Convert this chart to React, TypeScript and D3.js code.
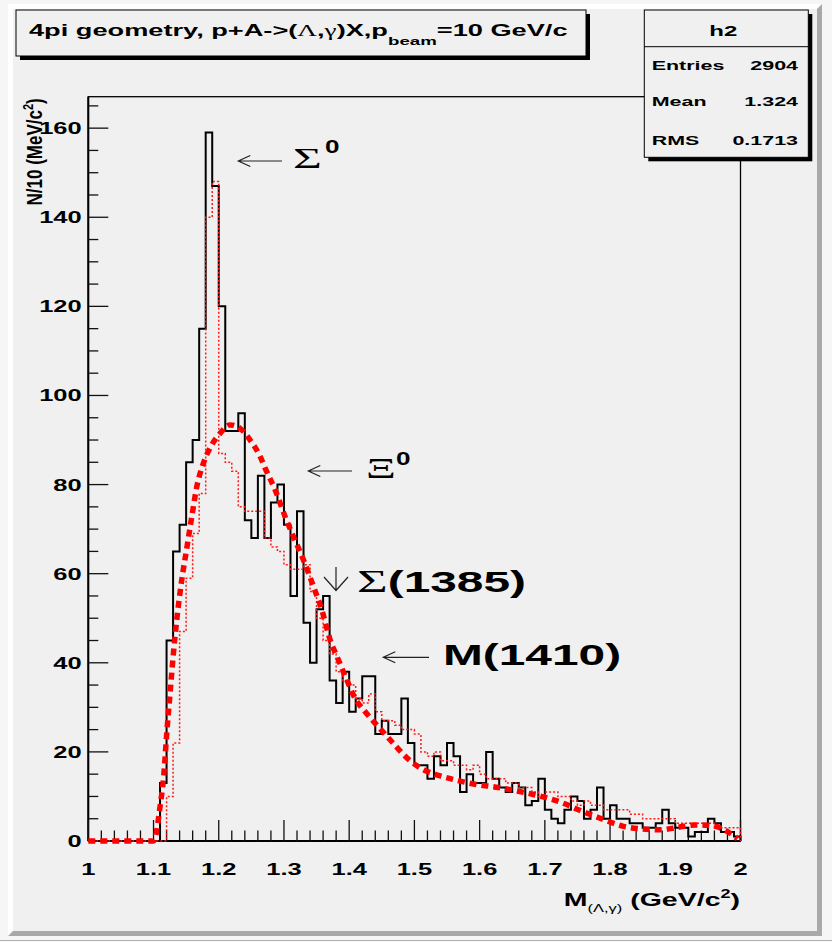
import React from 'react'
import * as d3 from 'd3'

const W = 832
const H = 942

// 10 MeV bins from 1.00 to 2.00 (100 bins)
const dataCounts = [
  0, 0, 0, 0, 0, 0, 0, 0, 0, 0,
  0, 13, 45, 65, 71, 85, 90, 115, 159, 147,
  120, 92, 92, 96, 72, 68, 82, 68, 76, 80,
  71, 55, 74, 49, 40, 52, 55, 36, 31, 38,
  29, 32, 37, 37, 24, 27, 24, 24, 32, 22,
  17, 17, 14, 19, 17, 22, 19, 11, 15, 13,
  13, 20, 14, 12, 11, 13, 12, 8, 9, 14,
  7, 5, 4, 7, 10, 9, 5, 7, 12, 5,
  8, 5, 5, 4, 4, 3, 3, 4, 7, 4,
  3, 3, 1, 2, 2, 5, 4, 2, 2, 1,
]

// dotted red reference histogram
const refCounts = [
  0, 0, 0, 0, 0, 0, 0, 0, 0, 0,
  0, 0, 10, 22, 47, 59, 69, 78, 140, 148,
  87, 85, 83, 75, 74, 74, 74, 68, 66, 65,
  62, 61, 61, 62, 56, 50, 45, 42, 38, 36,
  35, 32, 31, 33, 29, 27, 27, 26, 25, 25,
  24, 20, 19, 20, 18, 18, 17, 17, 16, 17,
  15, 14, 14, 14, 13, 13, 12, 12, 11, 10,
  11, 11, 10, 10, 9, 8, 9, 8, 8, 7,
  7, 7, 7, 6, 6, 5, 5, 5, 5, 5,
  4, 4, 4, 4, 4, 4, 3, 3, 3, 3,
]

// fitted curve
const fitX = [1.0, 1.1, 1.1023, 1.11, 1.1155, 1.1203, 1.1254, 1.1305, 1.1356, 1.1433,
  1.151, 1.1587, 1.1663, 1.1765, 1.1893, 1.2021, 1.2174, 1.2328, 1.2481, 1.2635,
  1.2711, 1.2865, 1.3018, 1.3146, 1.3299, 1.3453, 1.358, 1.3709, 1.3836, 1.3965,
  1.4092, 1.4246, 1.4425, 1.4579, 1.4732, 1.4936, 1.514, 1.5397, 1.5653, 1.5908,
  1.6289, 1.6548, 1.6808, 1.7054, 1.7315, 1.7514, 1.7744, 1.7975, 1.8205, 1.8497,
  1.8773, 1.9047, 1.9308, 1.9584, 1.98, 1.9953]
const fitY = [0, 0, 0.6, 7.7, 14.4, 24.2, 33.2, 42.1, 49.6, 58.6,
  65.7, 72.8, 79.5, 84.8, 88.9, 91.5, 93.4, 92.6, 90, 86.3,
  83.7, 78.8, 72.8, 68.3, 63.1, 57.1, 51.9, 45.1, 40.6, 36.1,
  32, 29, 26, 23.5, 21, 18, 16, 14.6, 13.6, 12.8,
  12, 11.3, 10.5, 9.6, 8.3, 7, 5.7, 4.4, 3.3, 2.7,
  2.5, 3.1, 3.6, 3.4, 2.1, 0.5]

const xTickLabels = ['1', '1.1', '1.2', '1.3', '1.4', '1.5', '1.6', '1.7', '1.8', '1.9', '2']
const yTickLabels = ['0', '20', '40', '60', '80', '100', '120', '140', '160']
const statNames = ['Entries', 'Mean', 'RMS']
const statValues = ['2904', '1.324', '0.1713']

const SANS = '"Liberation Sans", Arial, Helvetica, sans-serif'
const SERIF = '"Liberation Serif", "Times New Roman", serif'

function ST({ x, y, sx = 1.65, anchor = 'start', size, weight = 'bold', family = SANS, rotate, children }: any) {
  const tr = `translate(${x},${y}) scale(${sx},1)` + (rotate ? ` rotate(${rotate})` : '')
  return (
    <text transform={tr} textAnchor={anchor} fontSize={size} fontWeight={weight} fontFamily={family} fill="#000">
      {children}
    </text>
  )
}

function Chart() {
  const x = d3.scaleLinear().domain([1, 2]).range([88.3, 740.5])
  const y = d3.scaleLinear().domain([0, 167.06]).range([841, 96.7])

  const binW = 0.01
  const histPath = (vals: number[]) => {
    const pts: [number, number][] = vals.map((v, i) => [1 + i * binW, v])
    pts.push([2, vals[vals.length - 1]])
    pts.push([2, 0])
    return d3.line<[number, number]>()
      .x(d => x(d[0]))
      .y(d => y(d[1]))
      .curve(d3.curveStepAfter)(pts) as string
  }

  const fitPath = d3.line<number>()
    .x((d, i) => x(fitX[i]))
    .y(d => y(d))
    .curve(d3.curveMonotoneX)(fitY) as string

  const xMinor = d3.range(0, 51).map(i => 1 + i * 0.02)
  const yMinor = d3.range(0, 34).map(i => i * 5)

  const x0 = x(1), x1 = x(2), yb = y(0), yt = y.range()[1]

  const arrowL = (xa: number, xb: number, yy: number) =>
    `M${xb},${yy}L${xa},${yy}M${xa + 12},${yy - 5.5}L${xa},${yy}L${xa + 12},${yy + 5.5}`

  return (
    <svg width={W} height={H} style={{ position: 'absolute', left: 0, top: 0 }}>
      {/* canvas with bevel */}
      <rect x={0} y={0} width={W} height={H} fill="#f6f6f6" />
      <rect x={8} y={4} width={814} height={932} fill="#f0f0f0" />
      <polygon points="8,4 822,4 817,9 13,9 13,931 8,936" fill="#ffffff" />
      <polygon points="822,4 822,936 8,936 13,931 817,931 817,9" fill="#a9a9a9" />
      <line x1={0} x2={W} y1={940.5} y2={940.5} stroke="#b0b0b0" />

      {/* frame */}
      <rect x={x0} y={yt} width={x1 - x0} height={yb - yt} fill="none" stroke="#000" strokeWidth={1.3} />
      <line x1={x0} x2={x0} y1={yt} y2={yb} stroke="#000" strokeWidth={2} />
      <line x1={x0} x2={x1} y1={yb} y2={yb} stroke="#000" strokeWidth={2} />

      {/* ticks */}
      {xMinor.map((v, i) => (
        <line key={'xt' + i} x1={x(v)} x2={x(v)} y1={yb} y2={yb - (i % 5 === 0 ? 21 : 10.5)} stroke="#111" strokeWidth={1.3} />
      ))}
      {yMinor.map((v, i) => (
        <line key={'yt' + i} x1={x0} x2={x0 + (i % 4 === 0 ? 20 : 10)} y1={y(v)} y2={y(v)} stroke="#111" strokeWidth={1.3} />
      ))}

      {/* tick labels */}
      {xTickLabels.map((t, i) => (
        <ST key={'xl' + i} x={x(1 + i * 0.1)} y={875} sx={1.5} anchor="middle" size={17}>{t}</ST>
      ))}
      {yTickLabels.map((t, i) => (
        <ST key={'yl' + i} x={81.7} y={y(i * 20) + 6} sx={1.5} anchor="end" size={17}>{t}</ST>
      ))}

      {/* axis titles */}
      <ST x={41.7} y={98.3} sx={1.3} anchor="end" size={17} rotate={-90}>
        N/10 (MeV/c<tspan fontSize={11} dy={-7}>2</tspan><tspan dy={7}>)</tspan>
      </ST>
      <ST x={740} y={906} sx={1.5} anchor="end" size={19}>
        M<tspan fontSize={11} dy={6} fontWeight="normal">(Λ,γ)</tspan>
        <tspan dy={-6}> (GeV/c</tspan><tspan fontSize={12} dy={-8}>2</tspan><tspan dy={8}>)</tspan>
      </ST>

      {/* histograms and fit */}
      <path d={histPath(dataCounts)} fill="none" stroke="#000" strokeWidth={2} />
      <path d={histPath(refCounts)} fill="none" stroke="#ff1a1a" strokeWidth={1.5} strokeDasharray="2 2" />
      <path d={fitPath} fill="none" stroke="#ff0000" strokeWidth={5.5} strokeDasharray="7 5" />

      {/* annotations */}
      <path d={arrowL(238.3, 282, 161)} fill="none" stroke="#222" strokeWidth={1.2} />
      <ST x={293} y={168} sx={1.65} size={30} weight="normal" family={SERIF}>Σ</ST>
      <ST x={325} y={153} sx={1.45} size={18}>0</ST>

      <path d={arrowL(308.3, 352, 471)} fill="none" stroke="#222" strokeWidth={1.2} />
      <ST x={366} y={478} sx={1.6} size={29} weight="normal" family={SERIF}>Ξ</ST>
      <ST x={396} y={465} sx={1.45} size={18}>0</ST>

      <path d="M336,567L336,590.5M324,577L336,590.5L348,577" fill="none" stroke="#222" strokeWidth={1.2} />
      <ST x={357} y={592} sx={1.65} size={29}>
        <tspan fontFamily={SERIF} fontWeight="normal" fontSize={32}>Σ</tspan>(1385)
      </ST>

      <path d={arrowL(383.3, 429, 657.3)} fill="none" stroke="#222" strokeWidth={1.2} />
      <ST x={443} y={665} sx={1.65} size={29}>M(1410)</ST>

      {/* title box */}
      <rect x={20} y={14} width={570} height={46} fill="#000" />
      <rect x={16} y={10} width={570} height={46} fill="#f0f0f0" stroke="#000" strokeWidth={1} />
      <ST x={29} y={36} sx={1.7} size={16}>
        4pi geometry, p+A-&gt;(<tspan fontFamily={SERIF} fontWeight="normal">Λ</tspan>,<tspan fontFamily={SERIF} fontWeight="normal">γ</tspan>)X,p
        <tspan fontSize={11} dy={9}>beam</tspan><tspan dy={-9}>=10 GeV/c</tspan>
      </ST>

      {/* stats box */}
      <rect x={648.3} y={14} width={164} height={147.3} fill="#000" />
      <rect x={644.3} y={10} width={164} height={147.3} fill="#f0f0f0" stroke="#000" strokeWidth={1} />
      <line x1={644.3} x2={808.3} y1={46.7} y2={46.7} stroke="#000" strokeWidth={1} />
      <ST x={723.3} y={35.5} sx={1.6} anchor="middle" size={15}>h2</ST>
      {statNames.map((s, i) => (
        <ST key={'sn' + i} x={651.7} y={[69.5, 106, 144.5][i]} sx={1.65} size={13}>{s}</ST>
      ))}
      {statValues.map((s, i) => (
        <ST key={'sv' + i} x={798} y={[69.5, 106, 144.5][i]} sx={1.65} anchor="end" size={13}>{s}</ST>
      ))}
    </svg>
  )
}

export default function App() {
  return <Chart />
}
